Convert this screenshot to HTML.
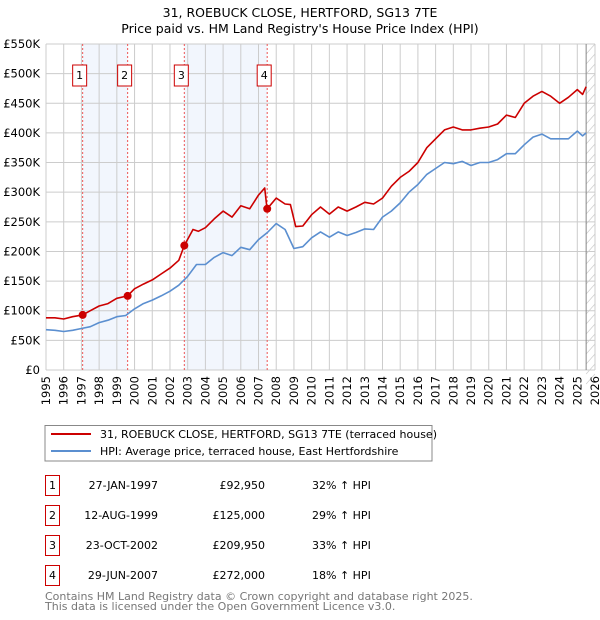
<!DOCTYPE html>
<html><head><meta charset="utf-8"><style>
body{margin:0;background:#fff;width:600px;height:620px;overflow:hidden;font-family:"DejaVu Sans","Liberation Sans",sans-serif;}
svg{display:block}
</style></head><body>
<svg id="c" width="600" height="620" font-family="DejaVu Sans, Liberation Sans, sans-serif">
<text x="300" y="17" text-anchor="middle" font-size="12.5">31, ROEBUCK CLOSE, HERTFORD, SG13 7TE</text>
<text x="300" y="33" text-anchor="middle" font-size="12.5">Price paid vs. HM Land Registry's House Price Index (HPI)</text>
<g id="plot"></g>
<g>
<rect x="45" y="425.5" width="387" height="35.5" fill="#fff" stroke="#888"/>
<line x1="51" y1="434" x2="91" y2="434" stroke="#cc0000" stroke-width="2"/>
<text x="100" y="438" font-size="11">31, ROEBUCK CLOSE, HERTFORD, SG13 7TE (terraced house)</text>
<line x1="51" y1="451" x2="91" y2="451" stroke="#5b8fd0" stroke-width="2"/>
<text x="100" y="455" font-size="11">HPI: Average price, terraced house, East Hertfordshire</text>
</g>
<g id="table" font-size="11"></g>
<text x="45" y="600" font-size="11" fill="#777">Contains HM Land Registry data © Crown copyright and database right 2025.</text>
<text x="45" y="610" font-size="11" fill="#777">This data is licensed under the Open Government Licence v3.0.</text>
</svg>
<script>
const yearTicks=[1995,1996,1997,1998,1999,2000,2001,2002,2003,2004,2005,2006,2007,2008,2009,2010,2011,2012,2013,2014,2015,2016,2017,2018,2019,2020,2021,2022,2023,2024,2025,2026];
const priceTicks=[0,50,100,150,200,250,300,350,400,450,500,550];
const priceLabels=["£0","£50K","£100K","£150K","£200K","£250K","£300K","£350K","£400K","£450K","£500K","£550K"];
const propT=[1995.0,1995.5,1996,1996.5,1997.07,1997.5,1998,1998.5,1999,1999.6,2000,2000.5,2001,2001.5,2002,2002.5,2002.81,2003.3,2003.6,2004,2004.5,2005,2005.5,2006,2006.5,2007.0,2007.35,2007.45,2007.49,2008,2008.5,2008.8,2009.1,2009.5,2010,2010.5,2011,2011.5,2012,2012.5,2013,2013.5,2014,2014.5,2015,2015.5,2016,2016.5,2017,2017.5,2018,2018.5,2019,2019.5,2020,2020.5,2021,2021.5,2022,2022.5,2023,2023.5,2024,2024.5,2025,2025.3,2025.5];
const propV=[88,88,86,90,93,100,108,112,121,125,137,145,152,162,172,185,210,237,234,240,255,268,258,277,272,295,307,280,272,290,280,279,242,243,262,275,263,275,268,275,283,280,290,310,325,335,350,375,390,405,410,405,405,408,410,415,430,426,450,462,470,462,450,460,473,465,478];
const hpiT=[1995.0,1995.5,1996,1996.5,1997,1997.5,1998,1998.5,1999,1999.5,2000,2000.5,2001,2001.5,2002,2002.5,2003,2003.5,2004,2004.5,2005,2005.5,2006,2006.5,2007,2007.5,2008,2008.5,2009,2009.5,2010,2010.5,2011,2011.5,2012,2012.5,2013,2013.5,2014,2014.5,2015,2015.5,2016,2016.5,2017,2017.5,2018,2018.5,2019,2019.5,2020,2020.5,2021,2021.5,2022,2022.5,2023,2023.5,2024,2024.5,2025,2025.3,2025.5];
const hpiV=[68,67,65,67,70,73,80,84,90,92,103,112,118,125,133,143,158,178,178,190,198,193,207,203,220,232,247,237,205,208,223,233,224,233,227,232,238,237,258,268,282,300,313,330,340,350,348,352,345,350,350,355,365,365,380,393,398,390,390,390,403,395,400];
const saleT=[1997.07,1999.61,2002.81,2007.49];
const saleV=[92.95,125,209.95,272];
const saleDates=["27-JAN-1997","12-AUG-1999","23-OCT-2002","29-JUN-2007"];
const salePrices=["£92,950","£125,000","£209,950","£272,000"];
const salePct=["32% ↑ HPI","29% ↑ HPI","33% ↑ HPI","18% ↑ HPI"];
const NS="http://www.w3.org/2000/svg";
const X0=46,X1=595,Y0=370,Y1=44,T0=1995,T1=2026,VMAX=550;
const xs=t=>X0+(t-T0)*(X1-X0)/(T1-T0);
const ys=v=>Y0-v*(Y0-Y1)/VMAX;
const plot=document.getElementById('plot');
function mk(tag,attrs,parent){const e=document.createElementNS(NS,tag);for(const k in attrs)e.setAttribute(k,attrs[k]);(parent||plot).appendChild(e);return e;}
let e;
e=mk('rect',{x:X0,y:Y1,width:X1-X0,height:Y0-Y1,fill:'#fff'});


for(let i=0;i<saleT.length;i+=2){
 e=mk('rect',{x:xs(saleT[i]),y:Y1,width:xs(saleT[i+1])-xs(saleT[i]),height:Y0-Y1,fill:'#f2f6fd'});
 
 
}
const fx=xs(2025.5);
e=mk('g',{});


for(let yy=Y1;yy<Y0+12;yy+=10){mk('line',{x1:fx,y1:yy+10,x2:X1,y2:yy,stroke:'#ccc','stroke-width':0.7},e);}
yearTicks.forEach(t=>{
 e=mk('line',{x1:xs(t),y1:Y1,x2:xs(t),y2:Y0,stroke:'#ccc','stroke-width':1});
 
 
 e=mk('text',{x:0,y:0,transform:`translate(${xs(t)+4},${Y0+6}) rotate(-90)`,'text-anchor':'end','font-size':11.5});
 e.textContent=t;
 
 
});
priceTicks.forEach((v,i)=>{
 e=mk('line',{x1:X0,y1:ys(v),x2:X1,y2:ys(v),stroke:'#ccc','stroke-width':1});
 
 
 e=mk('text',{x:40,y:ys(v)+4,'text-anchor':'end','font-size':11.5});
 e.textContent=priceLabels[i];
 
 
});
e=mk('line',{x1:fx,y1:Y1,x2:fx,y2:Y0,stroke:'#888','stroke-width':1});


saleT.forEach((t,i)=>{
 e=mk('line',{x1:xs(t),y1:Y1,x2:xs(t),y2:Y0,stroke:'#e55','stroke-width':1,'stroke-dasharray':'2,2'});
 
 
 const bx=xs(t)-3;
 e=mk('rect',{x:bx-7,y:65,width:14,height:21,fill:'#fff',stroke:'#c00','stroke-width':1});
 
 
 e=mk('text',{x:bx,y:79,'text-anchor':'middle','font-size':11});
 e.textContent=i+1;
 
 
});
function line(T,V,col,name){
 const d=T.map((t,i)=>(i?'L':'M')+xs(t).toFixed(1)+','+ys(V[i]).toFixed(1)).join('');
 const p=mk('path',{d:d,fill:'none',stroke:col,'stroke-width':1.6,'stroke-linejoin':'round'});
 
 
}
line(hpiT,hpiV,'#5b8fd0','hpi-line');
line(propT,propV,'#cc0000','property-price-line');
saleT.forEach((t,i)=>{
 e=mk('circle',{cx:xs(t),cy:ys(saleV[i]),r:4,fill:'#cc0000'});
 
 
});
const tb=document.getElementById('table');
saleDates.forEach((d,i)=>{
 const y=475+i*30;
 e=mk('rect',{x:45.5,y:y+0.5,width:14,height:20,fill:'#fff',stroke:'#c00'},tb);
 
 
 e=mk('text',{x:52.5,y:y+14,'text-anchor':'middle'},tb);e.textContent=i+1;
 
 
 e=mk('text',{x:158,y:y+14,'text-anchor':'end'},tb);e.textContent=d;
 
 
 e=mk('text',{x:265,y:y+14,'text-anchor':'end'},tb);e.textContent=salePrices[i];
 
 
 e=mk('text',{x:312,y:y+14},tb);e.textContent=salePct[i];
 
 
});
</script>
</body></html>
